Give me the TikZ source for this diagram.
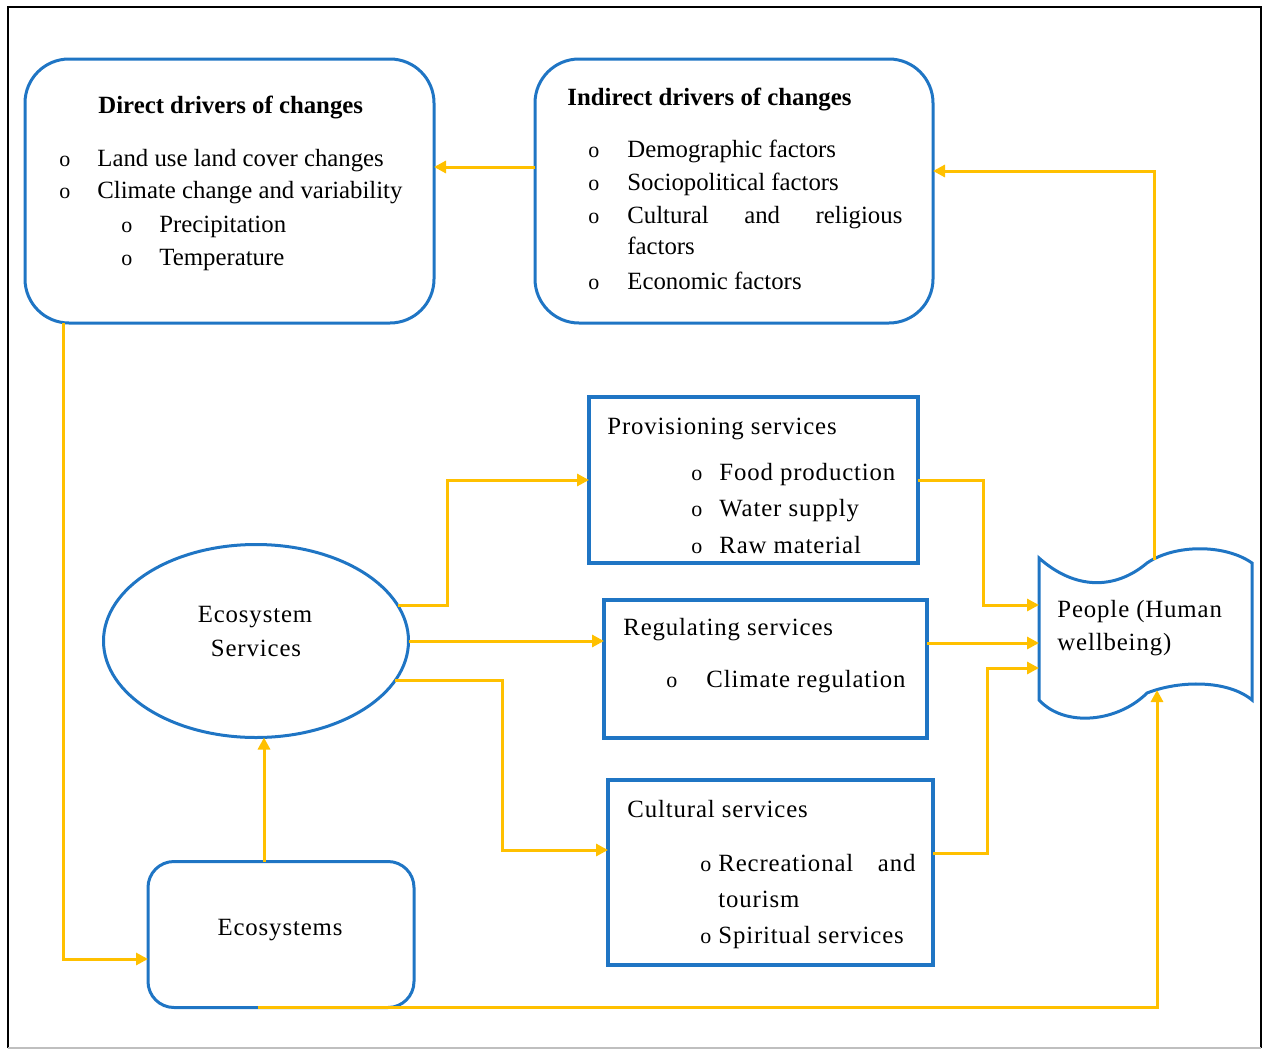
\documentclass[tikz,border=0pt]{standalone}
\usepackage{fontspec}
\setmainfont{Liberation Serif}
\newfontfamily\widefont[LetterSpace=3.5]{Liberation Serif}
\usetikzlibrary{arrows.meta,shapes.geometric}
\definecolor{bblue}{RGB}{31,117,196}
\definecolor{gold}{RGB}{255,192,0}
\begin{document}
\begin{tikzpicture}[x=0.5pt,y=-0.5pt,
  rbox/.style={draw=bblue, line width=1.5pt, rounded corners=22pt, inner sep=0pt, outer sep=0pt},
  sbox/.style={draw=bblue, line width=1.8pt, inner sep=0pt, outer sep=0pt},
  arr/.style={draw=gold, line width=1.5pt, -{Triangle[length=6pt,width=6pt]}},
  txt/.style={anchor=base west, inner sep=0pt, font=\fontsize{12.4}{15}\selectfont},
  wtxt/.style={anchor=base west, inner sep=0pt, font=\widefont\fontsize{12.4}{15}\selectfont},
  ctxt/.style={anchor=base, inner sep=0pt, font=\widefont\fontsize{12.4}{15}\selectfont},
  ttl/.style={anchor=base west, inner sep=0pt, font=\fontsize{12.4}{15}\selectfont\bfseries},
  bul/.style={anchor=base west, inner sep=0pt, font=\fontsize{11}{13}\selectfont},
]
\useasboundingbox (0,0) rectangle (1263,1049);
% frame
\draw[line width=0.8pt] (8,1048) -- (8,7) -- (1261,7) -- (1261,1048);
\draw[black!25, line width=0.8pt] (8,1048) -- (1261,1048);

% boxes
\node[rbox, minimum width=204.5pt, minimum height=132pt] (direct) at (229.5,191) {};
\node[rbox, minimum width=199pt, minimum height=132pt] (ind) at (734,191) {};
\node[sbox, minimum width=164.5pt, minimum height=83pt] (prov) at (753.5,480) {};
\node[sbox, minimum width=161.5pt, minimum height=69pt] (reg) at (765.5,669) {};
\node[sbox, minimum width=162.5pt, minimum height=92.5pt] (cul) at (770.5,872.5) {};
\node[draw=bblue, line width=1.5pt, ellipse, inner sep=0pt, outer sep=0pt, minimum width=152.5pt, minimum height=96.5pt] (ell) at (256,641) {};
\node[rbox, rounded corners=13pt, minimum width=133pt, minimum height=73pt] (eco) at (281,934.5) {};
\node[inner sep=0pt, outer sep=0pt, minimum width=106.5pt, minimum height=71pt] (people) at (1145.5,629) {};
\draw[bblue, line width=1.5pt]
  (1039,558) .. controls (1075,590) and (1115,590) .. (1147,563)
  .. controls (1175,544) and (1225,544) .. (1252,563)
  -- (1252,700)
  .. controls (1228,680) and (1180,680) .. (1147,693)
  .. controls (1118,722) and (1065,728) .. (1039,700) -- cycle;
\coordinate (ptop) at (1154,560);
\coordinate (pbot) at (1157,690);

% texts: direct
\node[ttl] (d0) at (98,113) {Direct drivers of changes};
\node[bul] (db1) at (59,166) {o};
\node[txt] (d1) at (97,166) {Land use land cover changes};
\node[bul] (db2) at (59,198) {o};
\node[txt] (d2) at (97,198) {Climate change and variability};
\node[bul] (db3) at (121,232) {o};
\node[txt] (d3) at (159,232) {Precipitation};
\node[bul] (db4) at (121,265) {o};
\node[txt] (d4) at (159,265) {Temperature};

% texts: indirect
\node[ttl] (i0) at (567,105) {Indirect drivers of changes};
\node[bul] (ib1) at (588,157) {o};
\node[txt] (i1) at (627,157) {Demographic factors};
\node[bul] (ib2) at (588,190) {o};
\node[txt] (i2) at (627,190) {Sociopolitical factors};
\node[bul] (ib3) at (588,223) {o};
\node[txt] (i3) at (627,223) {\makebox[137.5pt][s]{Cultural\hfill and\hfill religious}};
\node[txt] (i4) at (627,254) {factors};
\node[bul] (ib5) at (588,289) {o};
\node[txt] (i5) at (627,289) {Economic factors};

% provisioning
\node[wtxt] (p0) at (607,434) {Provisioning services};
\node[bul] (pb1) at (691,480) {o};
\node[wtxt] (p1) at (719,480) {Food production};
\node[bul] (pb2) at (691,516) {o};
\node[wtxt] (p2) at (719,516) {Water supply};
\node[bul] (pb3) at (691,553) {o};
\node[wtxt] (p3) at (719,553) {Raw material};

% regulating
\node[wtxt] (r0) at (623,635) {Regulating services};
\node[bul] (rb1) at (666,687) {o};
\node[wtxt] (r1) at (706,687) {Climate regulation};

% cultural
\node[wtxt] (c0) at (627,817) {Cultural services};
\node[bul] (cb1) at (700,871) {o};
\node[wtxt] (c1) at (718,871) {\makebox[98.5pt][s]{Recreational\hfill and}};
\node[wtxt] (c2) at (718,907) {tourism};
\node[bul] (cb3) at (700,943) {o};
\node[wtxt] (c3) at (718,943) {Spiritual services};

% ellipse, ecosystems, people
\node[ctxt] (e1) at (255,622) {Ecosystem};
\node[ctxt] (e2) at (256,656) {Services};
\node[ctxt] (k1) at (280,935) {Ecosystems};
\node[wtxt] (h1) at (1057,617) {People (Human};
\node[wtxt] (h2) at (1057,650) {wellbeing)};

% connectors
\draw[arr] ([yshift=12pt]ind.west) -- ([yshift=12pt]direct.east);
\draw[arr] (ptop) |- ([yshift=10pt]ind.east);
\draw[arr] ([xshift=-83.25pt]direct.south) |- ([yshift=-12.25pt]eco.west);
\draw[arr] ([xshift=-8.5pt]eco.north) -- ([xshift=-8.5pt]eco.north |- ell.south);
\draw[arr] ([xshift=-11.5pt]eco.south) -| (pbot);
\draw[arr] (ell.14) -| ([xshift=-71pt]prov.west) -- (prov.west);
\draw[arr] (ell.east) -- (reg.west |- ell.east);
\draw[arr] (ell.-16) -| ([xshift=-53pt,yshift=11.25pt]cul.west) -- ([yshift=11.25pt]cul.west);
\draw[arr] (prov.east) -| ([xshift=-28pt,yshift=12pt]people.west) -- ([yshift=12pt]people.west);
\draw[arr] ([yshift=-7pt]people.west -| reg.east) -- ([yshift=-7pt]people.west);
\draw[arr] ([yshift=9.75pt]cul.east) -| ([xshift=-26pt,yshift=-19.5pt]people.west) -- ([yshift=-19.5pt]people.west);
\end{tikzpicture}
\end{document}
